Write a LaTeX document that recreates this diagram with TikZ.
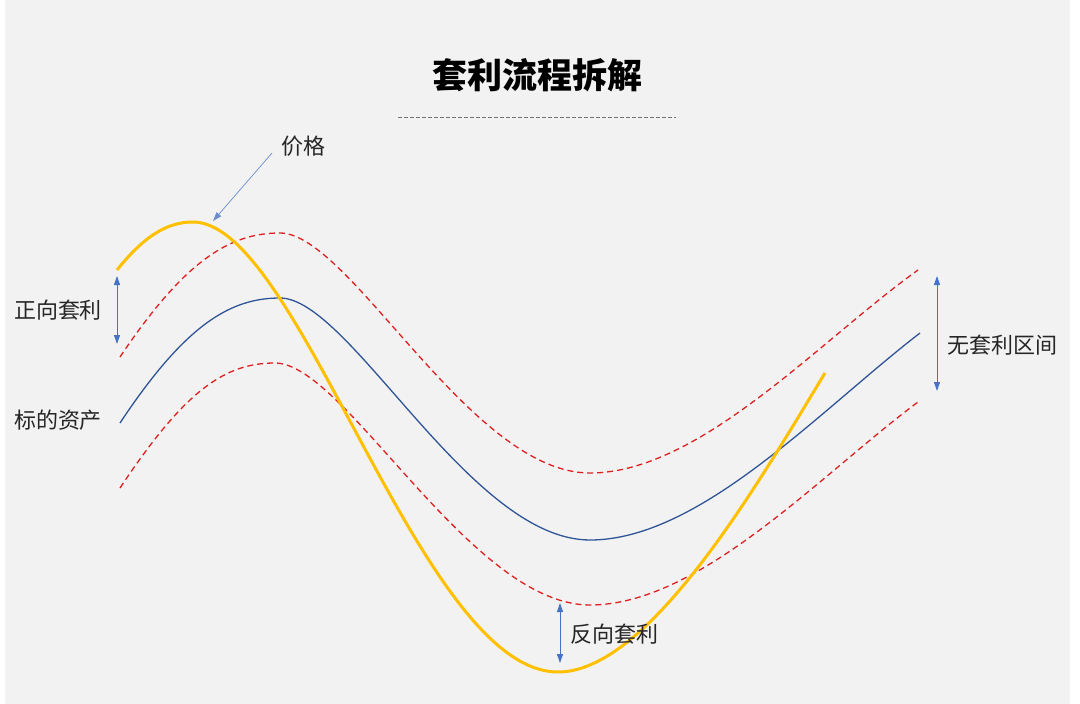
\documentclass[tikz,border=0pt]{standalone}
\usepackage{fontspec}
\setmainfont{Noto Sans CJK SC}
\usepackage{tikz}
\usetikzlibrary{positioning,arrows.meta}
\definecolor{bggray}{HTML}{F2F2F2}
\definecolor{pricegold}{HTML}{FFC000}
\definecolor{assetblue}{HTML}{2F5597}
\definecolor{bandred}{HTML}{E02020}
\definecolor{tipblue}{HTML}{4472C4}
\tikzstyle{label} = [inner sep=0pt, font=\fontsize{22}{24}\selectfont, text=black!85]
\tikzstyle{price} = [line width=3pt, pricegold]
\tikzstyle{asset} = [line width=1.3pt, assetblue]
\tikzstyle{band} = [line width=1.3pt, bandred, dash pattern=on 6pt off 4pt]
\tikzset{
 span/.style
  = {draw=tipblue, line width=0.9pt, {Triangle[length=9pt,width=6pt]}-{Triangle[length=9pt,width=6pt]}},
 pointer/.style
  = {draw=tipblue!80, line width=0.7pt, -{Triangle[length=9pt,width=6pt]}},
}

\begin{document}
\begin{tikzpicture}[x=1pt, y=-1pt]
\useasboundingbox (0,0) rectangle (1080,704);
\fill[bggray] (5,0) rectangle (1070,704);
% title
\node (title) [inner sep=0pt, font=\fontsize{35}{40}\selectfont\bfseries] at (537,75) {套利流程拆解};
\draw[black!55, line width=0.8pt, dash pattern=on 4pt off 2pt] (398,117) -- (676,117);
% curves
\draw[band] (120,357) .. controls (185,260) and (230,233) .. (280,233)
  .. controls (350,233) and (470,473) .. (590,473)
  .. controls (700,473) and (820,340) .. (918,270);
\draw[asset] (120,423) .. controls (185,325) and (230,298) .. (280,298)
  .. controls (350,298) and (470,540) .. (590,540)
  .. controls (700,540) and (820,410) .. (920,333);
\draw[band] (120,488) .. controls (185,390) and (225,363) .. (275,363)
  .. controls (345,363) and (470,605) .. (590,605)
  .. controls (700,605) and (820,475) .. (918,402);
\draw[price] (117,270) .. controls (145,235) and (168,222) .. (193,222)
  .. controls (300,222) and (420,672) .. (558,672)
  .. controls (650,672) and (760,480) .. (825,373);
% labels
\node (jiage) [label] at (303,146) {价格};
\node (zhengxiang) [label] at (58,310) {正向套利};
\node (biaodi) [label] at (58,420) {标的资产};
\node (wutaoli) [label] at (1002,345) {无套利区间};
\node (fanxiang) [label] at (614,634) {反向套利};
% arrows
\coordinate (pricepeak) at (213,221);
\coordinate (zxtop) at (117,276);
\coordinate (zxbot) at (117,344);
\coordinate (wttop) at (937,276);
\coordinate (wtbot) at (937,391);
\coordinate (fxtop) at (560,603);
\coordinate (fxbot) at (560,663);
\draw[pointer] (272,153) -- (pricepeak);
\draw[span] (zxtop) -- (zxbot);
\draw[span] (wttop) -- (wtbot);
\draw[span] (fxtop) -- (fxbot);
\end{tikzpicture}
\end{document}
